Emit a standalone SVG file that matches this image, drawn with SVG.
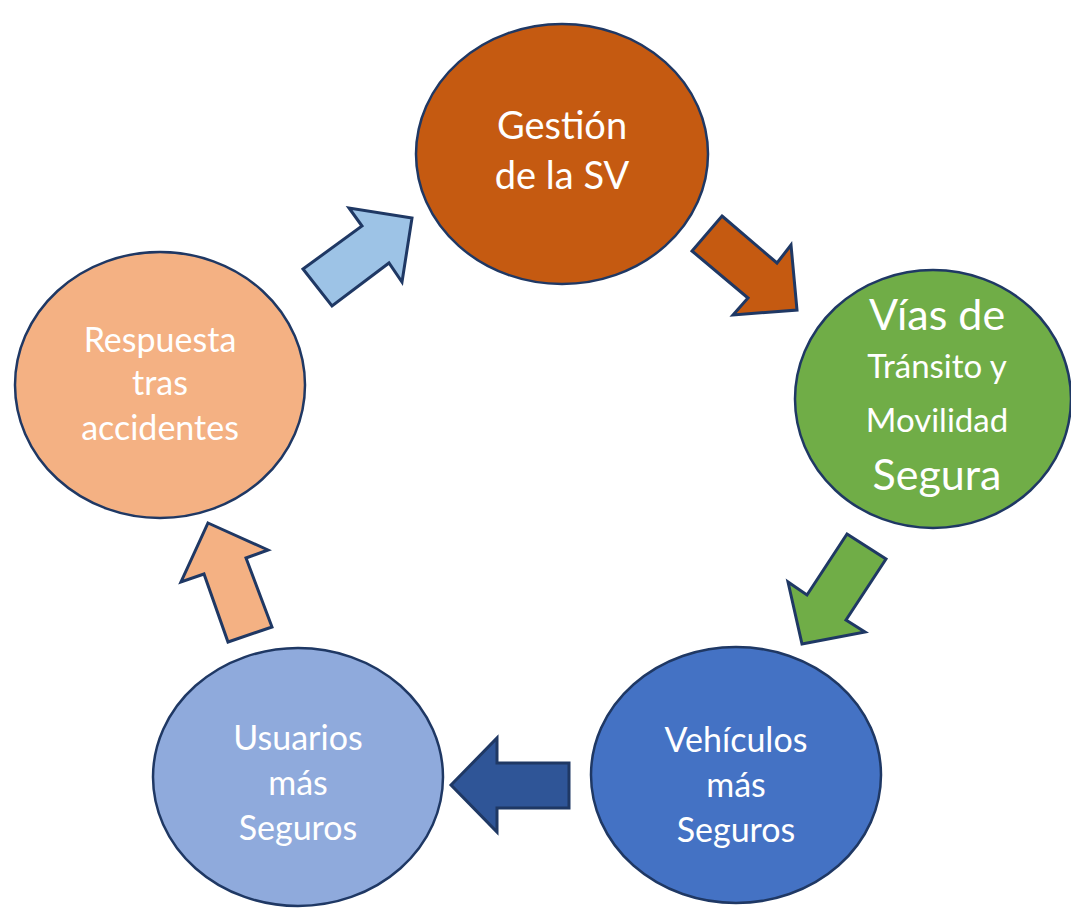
<svg xmlns="http://www.w3.org/2000/svg" width="1071" height="917" viewBox="0 0 1071 917">
<style>
.n{stroke:#1F3864;stroke-width:2.5}
.a{stroke:#1F3864;stroke-width:3;stroke-linejoin:miter}
text{font-family:Lato,"Open Sans","Liberation Sans",sans-serif;fill:#fff;text-anchor:middle}
.m{font-size:34px}
.v{font-size:33px}
.l{font-size:43px}
.g{font-size:38px}
</style>
<rect width="1071" height="917" fill="#fff"/>
<g id="connectors">
<polygon class="a" fill="#9DC3E6" points="303,269 362,226 349,208 412,218 402,282 389,263 332,306"/>
<polygon class="a" fill="#C55A11" points="722,216 777,263 791,245 797,310 733,315 748,298 692,251"/>
<polygon class="a" fill="#70AD47" points="847,534 886,559 846,620 865,632 802,644 788,582 807,595"/>
<polygon class="a" fill="#2F5597" points="451,785 497,738 497,763 569,763 569,808 497,808 497,832"/>
<polygon class="a" fill="#F4B183" points="208,523 268,550 246,558 272,627 228,642 204,574 181,582"/>
</g>
<g id="gestion">
<ellipse class="n" cx="562" cy="154" rx="146" ry="130" fill="#C55A11"/>
<text class="g" x="562" y="139">Gestión</text>
<text class="g" x="562" y="189">de la SV</text>
</g>
<g id="vias">
<ellipse class="n" cx="933" cy="399" rx="138" ry="129" fill="#70AD47"/>
<text class="l" x="937" y="330">Vías de</text>
<text class="v" x="937" y="378">Tránsito y</text>
<text class="v" x="937" y="432">Movilidad</text>
<text class="l" x="937" y="490">Segura</text>
</g>
<g id="vehiculos">
<ellipse class="n" cx="736" cy="775" rx="145" ry="128" fill="#4472C4"/>
<text class="m" x="736" y="752">Vehículos</text>
<text class="m" x="736" y="797">más</text>
<text class="m" x="736" y="842">Seguros</text>
</g>
<g id="usuarios">
<ellipse class="n" cx="298" cy="777" rx="145" ry="129" fill="#8FAADC"/>
<text class="m" x="298" y="750">Usuarios</text>
<text class="m" x="298" y="795">más</text>
<text class="m" x="298" y="840">Seguros</text>
</g>
<g id="respuesta">
<ellipse class="n" cx="160" cy="385" rx="145" ry="133" fill="#F4B183"/>
<text class="m" x="160" y="352">Respuesta</text>
<text class="m" x="160" y="395">tras</text>
<text class="m" x="160" y="440">accidentes</text>
</g>
</svg>
